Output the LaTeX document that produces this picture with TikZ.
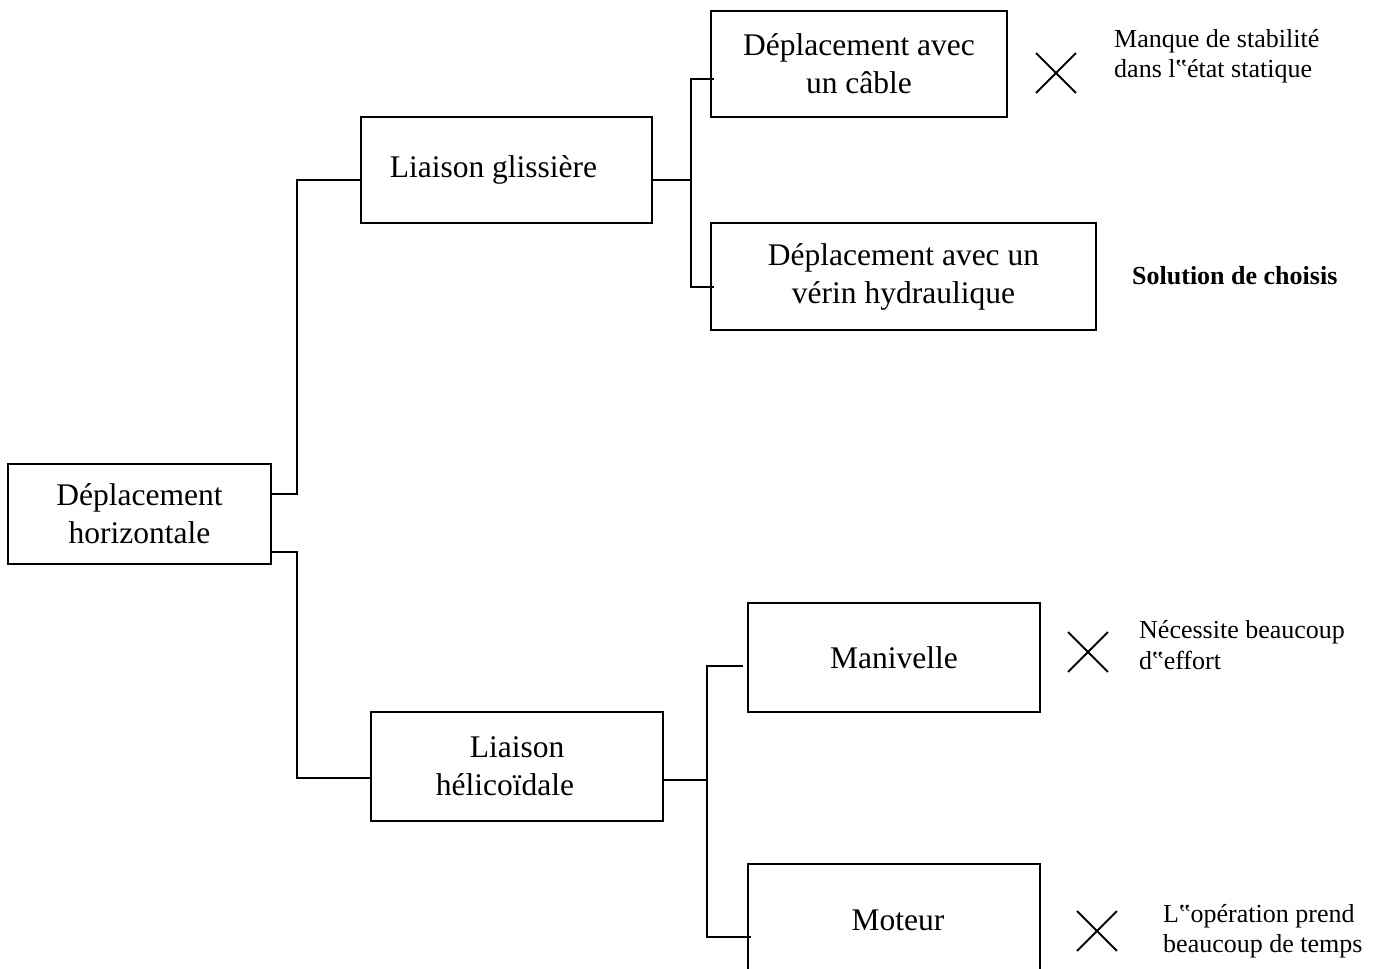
\documentclass[tikz,border=0pt]{standalone}
\usepackage{fontspec}
\setmainfont{Liberation Serif}
\usetikzlibrary{shapes.misc}
\begin{document}
\begin{tikzpicture}[x=1pt,y=-1pt,
  box/.style={draw, line width=1.8pt, rectangle, align=center, inner sep=0pt,
    font=\fontsize{31.5}{38}\selectfont},
  note/.style={anchor=west, align=left, inner sep=0pt,
    font=\fontsize{26}{30.5}\selectfont},
  link/.style={line width=1.8pt},
  nope/.style={draw, cross out, line width=1.8pt, minimum size=38pt, inner sep=0pt}]
\useasboundingbox (0,0) rectangle (1382,969);
\begin{scope}
\clip (0,0) rectangle (1382,969);

% boxes
\node[box, minimum width=263pt, minimum height=100pt] (A) at (139.5,514) {Déplacement\\horizontale};
\node[box, minimum width=291pt, minimum height=106pt] (B) at (506.5,170) {Liaison glissière\hspace{26pt}};
\node[box, minimum width=296pt, minimum height=106pt] (C) at (859,64) {Déplacement avec\\un câble};
\node[box, minimum width=385pt, minimum height=107pt] (D) at (903.5,276.5) {Déplacement avec un\\vérin hydraulique};
\node[box, minimum width=292pt, minimum height=109pt] (E) at (517,766.5) {Liaison\\hélicoïdale\hspace*{24pt}};
\node[box, minimum width=292pt, minimum height=109pt] (F) at (894,657.5) {Manivelle};
\node[box, minimum width=292pt, minimum height=112pt] (G) at (894,920) {\hspace{8pt}Moteur};

% tree connectors
\draw[link] ([yshift=20pt]A.east) -- ++(25,0) |- ([yshift=-10pt]B.west);
\draw[link] ([yshift=-38pt]A.east) -- ++(25,0) |- ([yshift=-11.5pt]E.west);

\coordinate (bj) at ([xshift=38pt,yshift=-10pt]B.east);
\draw[link] ([yshift=-10pt]B.east) -- (bj);
\draw[link] ([xshift=4pt,yshift=-15pt]C.west) -| (bj) |- ([xshift=4pt,yshift=-10.5pt]D.west);

\coordinate (ej) at ([xshift=43pt,yshift=-13.5pt]E.east);
\draw[link] ([yshift=-13.5pt]E.east) -- (ej);
\draw[link] ([xshift=-4pt,yshift=-8.5pt]F.west) -| (ej) |- ([xshift=4pt,yshift=-17pt]G.west);

% rejected options
\node[nope] (xC) at (1056,73) {};
\node[nope] (xF) at (1088,652) {};
\node[nope] (xG) at (1097,931) {};

% remarks
\node[note] (nC) at (1114,56) {Manque de stabilité\\dans l‟état statique};
\node[note, font=\bfseries\fontsize{26}{30.5}\selectfont] (nD) at (1132,276) {Solution de choisis};
\node[note] (nF) at (1139,645) {Nécessite beaucoup\\d‟effort};
\node[note] (nG) at (1163,931) {L‟opération prend\\beaucoup de temps};
\end{scope}
\end{tikzpicture}
\end{document}
